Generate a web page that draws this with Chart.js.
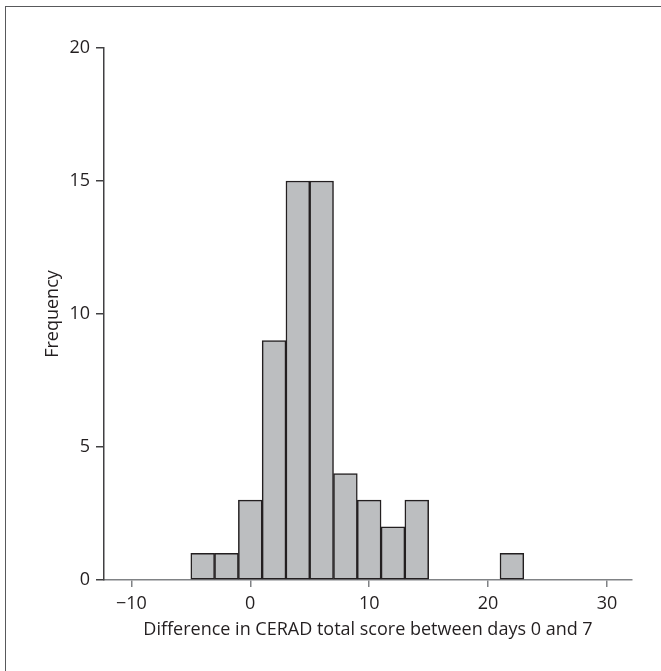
<!DOCTYPE html>
<html>
<head>
<meta charset="utf-8">
<script src="https://cdn.jsdelivr.net/npm/chart.js@4"></script>
<style>
  html, body { margin: 0; padding: 0; background: #fff; overflow: hidden; }
  #wrap { position: relative; width: 661px; height: 671px; }
  #frame { position: absolute; left: 5px; top: 6px; width: 700px; height: 700px;
           border-left: 1.5px solid #58595b; border-top: 1.5px solid #58595b; }
  canvas { position: absolute; left: 0; top: 0; }
</style>
</head>
<body>
<div id="wrap">
  <div id="frame"></div>
  <canvas id="chart" width="661" height="671"></canvas>
</div>
<script>
// histogram bins (centre of each 2-point-wide bin) and counts
var binCentres = [-4, -2, 0, 2, 4, 6, 8, 10, 12, 14, 22];
var counts     = [1, 1, 3, 9, 15, 15, 4, 3, 2, 3, 1];
var xTicks = [-10, 0, 10, 20, 30];
var yTicks = [0, 5, 10, 15, 20];

var FONT = { family: "'Open Sans', sans-serif", size: 18 };
var INK = '#231f20';

var points = binCentres.map(function (c, i) { return { x: c, y: counts[i] }; });

new Chart(document.getElementById('chart'), {
  type: 'bar',
  data: {
    datasets: [{
      data: points,
      backgroundColor: '#bcbec0',
      borderColor: INK,
      borderWidth: 1.5,
      borderSkipped: false,
      barPercentage: 1,
      categoryPercentage: 1
    }]
  },
  options: {
    responsive: false,
    animation: false,
    layout: { padding: { top: 48, right: 29, left: 38, bottom: 26 } },
    plugins: { legend: { display: false }, tooltip: { enabled: false } },
    scales: {
      x: {
        type: 'linear',
        offset: false,
        min: -12.3,
        max: 32.1,
        afterBuildTicks: function (scale) {
          scale.ticks = xTicks.map(function (v) { return { value: v }; });
        },
        afterFit: function (scale) { scale.height = 65; },
        border: { display: true, color: '#808285', width: 1.5 },
        grid: { offset: false, drawOnChartArea: false, color: '#808285', lineWidth: 1.5, tickLength: 7 },
        ticks: {
          color: INK, font: FONT, padding: 6, maxRotation: 0,
          callback: function (v) { return v < 0 ? '\u2212' + Math.abs(v) : String(v); }
        },
        title: {
          display: true,
          text: 'Difference in CERAD total score between days 0 and 7',
          color: INK, font: FONT, padding: { top: 4, bottom: 4 }
        }
      },
      y: {
        min: 0,
        max: 20,
        afterBuildTicks: function (scale) {
          scale.ticks = yTicks.map(function (v) { return { value: v }; });
        },
        afterFit: function (scale) { scale.width = 66; },
        border: { display: true, color: '#414042', width: 1.5 },
        grid: { drawOnChartArea: false, color: '#414042', lineWidth: 1.5, tickLength: 8 },
        ticks: { color: INK, font: FONT, padding: 6 },
        title: {
          display: true, text: 'Frequency',
          color: INK, font: FONT, padding: { top: 4, bottom: 4 }
        }
      }
    }
  }
});
</script>
</body>
</html>
